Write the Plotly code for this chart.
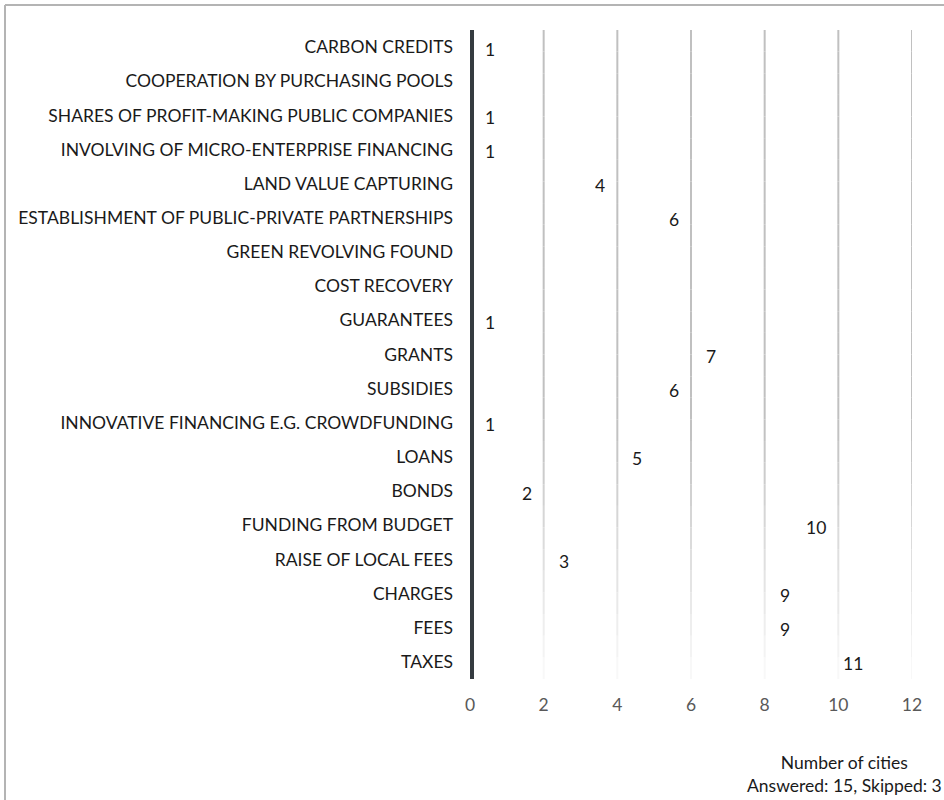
import plotly.graph_objects as go

categories = [
    "CARBON CREDITS",
    "COOPERATION BY PURCHASING POOLS",
    "SHARES OF PROFIT-MAKING PUBLIC COMPANIES",
    "INVOLVING OF MICRO-ENTERPRISE FINANCING",
    "LAND VALUE CAPTURING",
    "ESTABLISHMENT OF PUBLIC-PRIVATE PARTNERSHIPS",
    "GREEN REVOLVING FOUND",
    "COST RECOVERY",
    "GUARANTEES",
    "GRANTS",
    "SUBSIDIES",
    "INNOVATIVE FINANCING E.G. CROWDFUNDING",
    "LOANS",
    "BONDS",
    "FUNDING FROM BUDGET",
    "RAISE OF LOCAL FEES",
    "CHARGES",
    "FEES",
    "TAXES",
]
values = [1, 0, 1, 1, 4, 6, 0, 0, 1, 7, 6, 1, 5, 2, 10, 3, 9, 9, 11]
x_ticks = [0, 2, 4, 6, 8, 10, 12]
axis_note = "Number of cities<br>Answered: 15, Skipped: 3"

FONT = "Lato"
FS = 17.5

fig = go.Figure()
fig.add_trace(go.Bar(
    y=categories, x=values, orientation="h",
    marker=dict(color="rgba(0,0,0,0)", line=dict(width=0)),
    hoverinfo="x+y", showlegend=False,
))

# value labels
for c, v in zip(categories, values):
    if v > 0:
        fig.add_annotation(x=v, y=c, xref="x", yref="y", text=str(v),
                           showarrow=False, xanchor="right", xshift=-10, yshift=-2,
                           font=dict(family=FONT, size=FS, color="#1a1a1a"))

# fading gridlines
def lerp(a, b, t):
    return int(round(a + (b - a) * t))

nseg = 30
for gx in x_ticks[1:]:
    for i in range(nseg):
        y0 = i / nseg
        y1 = (i + 1) / nseg
        mid = (y0 + y1) / 2
        if mid >= 0.4:
            t = 0.0
        else:
            t = (0.4 - mid) / 0.4
        g = lerp(192, 250, t)
        fig.add_shape(type="line", xref="x", yref="paper", x0=gx, x1=gx, y0=y0, y1=y1,
                      line=dict(color=f"rgb({g},{g},{g})", width=2), layer="below")

# axis line at zero
fig.add_shape(type="line", xref="paper", yref="paper", x0=2/442, x1=2/442, y0=0, y1=1,
              line=dict(color="#353b40", width=4))

# outer frame (top and left)
fig.add_shape(type="line", xref="paper", yref="paper", x0=-465/442, x1=2, y0=1 + 25/649, y1=1 + 25/649,
              line=dict(color="#b4b4b4", width=2))
fig.add_shape(type="line", xref="paper", yref="paper", x0=-465/442, x1=-465/442, y0=1 + 25/649, y1=-2,
              line=dict(color="#b4b4b4", width=2))

fig.add_annotation(text=axis_note, xref="paper", yref="paper", x=1 + 32/442, y=-71/649,
                   xanchor="right", yanchor="top", align="center", showarrow=False,
                   font=dict(family=FONT, size=FS, color="#1a1a1a"))

fig.update_layout(
    width=944, height=800,
    margin=dict(l=470, r=32, t=30, b=121),
    paper_bgcolor="white", plot_bgcolor="white",
    font=dict(family=FONT, size=FS, color="#1a1a1a"),
    bargap=0.4,
    xaxis=dict(range=[0, 12], tickvals=x_ticks, showgrid=False, zeroline=False,
               tickfont=dict(color="#595959", size=FS), ticks="", ticklabelstandoff=13,
               fixedrange=True),
    yaxis=dict(categoryorder="array", categoryarray=categories, autorange="reversed",
               showgrid=False, zeroline=False, ticks="", ticklabelstandoff=16,
               tickfont=dict(color="#1a1a1a", size=FS)),
)

fig.write_html("out.html")
